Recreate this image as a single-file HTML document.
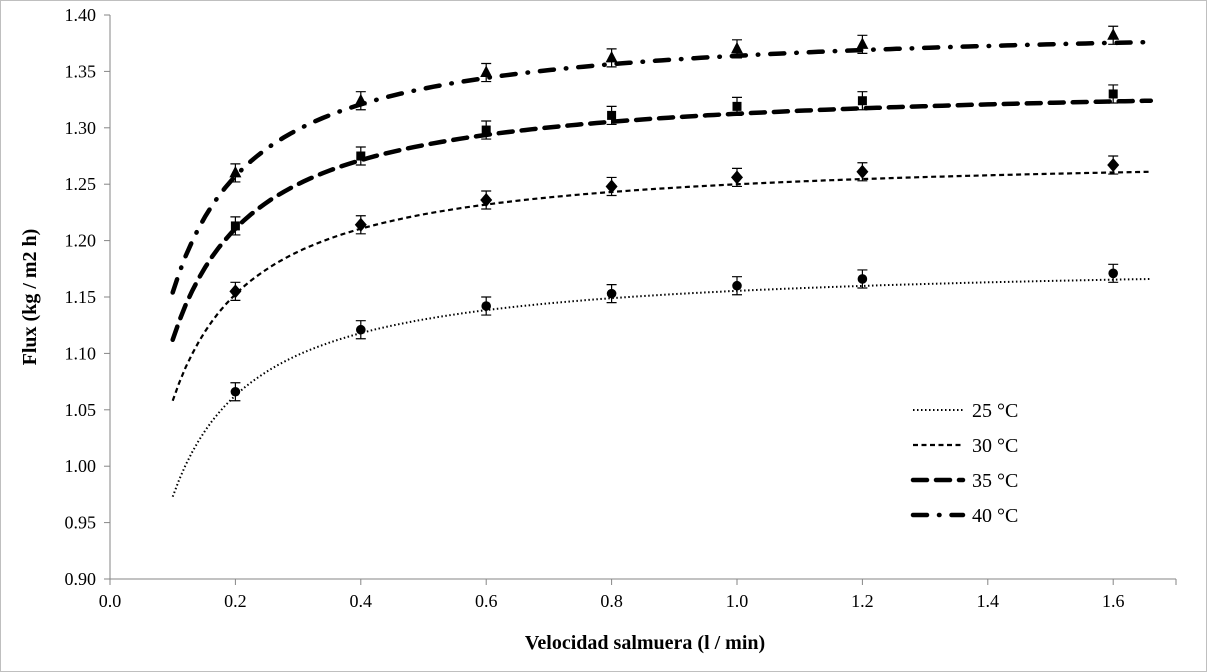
<!DOCTYPE html>
<html><head><meta charset="utf-8"><style>
body{margin:0;background:#fff}
svg{display:block;font-family:"Liberation Serif",serif}
</style></head><body>
<svg id="chart" width="1207" height="672" viewBox="0 0 1207 672">
<rect x="0.5" y="0.5" width="1206" height="671" fill="#fff" stroke="#bfbfbf"/>
<g id="axes"></g><g id="series"></g><g id="legend"></g>
<text x="645" y="649" text-anchor="middle" font-size="20" font-weight="bold">Velocidad salmuera (l / min)</text>
<text transform="translate(36,297) rotate(-90)" text-anchor="middle" font-size="20" font-weight="bold">Flux (kg / m2 h)</text>
</svg>
<script>
const xCats = [0.2, 0.4, 0.6, 0.8, 1.0, 1.2, 1.6];
const s25 = [1.066, 1.121, 1.142, 1.153, 1.160, 1.166, 1.171];
const s30 = [1.155, 1.214, 1.236, 1.248, 1.256, 1.261, 1.267];
const s35 = [1.213, 1.275, 1.298, 1.311, 1.319, 1.324, 1.330];
const s40 = [1.260, 1.324, 1.349, 1.362, 1.370, 1.374, 1.382];
const fitA = [1.1825, 1.2784, 1.3422, 1.395];
const fitB = [0.02797, 0.02942, 0.03073, 0.03218];
const fitC = [0.0335, 0.0335, 0.0335, 0.0335];
const errVal = 0.008;
const xTicks = ["0.0","0.2","0.4","0.6","0.8","1.0","1.2","1.4","1.6"];
const yTicks = ["0.90","0.95","1.00","1.05","1.10","1.15","1.20","1.25","1.30","1.35","1.40"];
const names = ["25 °C","30 °C","35 °C","40 °C"];

const NS="http://www.w3.org/2000/svg";
const X=v=>110+v*627, Y=v=>579-(v-0.9)*1128;
function mk(p,t,a){const e=document.createElementNS(NS,t);for(const k in a)e.setAttribute(k,a[k]);p.appendChild(e);return e;}
const ax=document.getElementById('axes'), sg=document.getElementById('series'), lg=document.getElementById('legend');
let e=mk(ax,'line',{x1:110,y1:579,x2:1176,y2:579,stroke:'#868686','stroke-width':1});


e=mk(ax,'line',{x1:110,y1:15,x2:110,y2:579,stroke:'#868686','stroke-width':1});


xTicks.forEach(t=>{const x=X(+t);
 mk(ax,'line',{x1:x,y1:579,x2:x,y2:585,stroke:'#868686'});
 const tx=mk(ax,'text',{x:x,y:607,'text-anchor':'middle','font-size':18});tx.textContent=t;
 
 });
mk(ax,'line',{x1:1176,y1:579,x2:1176,y2:585,stroke:'#868686'});
yTicks.forEach(t=>{const y=Y(+t);
 mk(ax,'line',{x1:104,y1:y,x2:110,y2:y,stroke:'#868686'});
 const tx=mk(ax,'text',{x:96,y:y+6,'text-anchor':'end','font-size':18});tx.textContent=t;
 
 });
const styles=[{w:2,d:'1.5,2.5',lc:'butt'},{w:2.2,d:'5,3.5',lc:'butt'},{w:4.5,d:'14,9',lc:'round'},{w:4.5,d:'14,12,0.5,12',lc:'round'}];
const data=[s25,s30,s35,s40];
function marker(g,i,x,y){
 if(i===0)return mk(g,'circle',{cx:x,cy:y,r:4.8,fill:'#000'});
 if(i===1)return mk(g,'polygon',{points:`${x},${y-7} ${x+6},${y} ${x},${y+7} ${x-6},${y}`,fill:'#000'});
 if(i===2)return mk(g,'rect',{x:x-4.5,y:y-4.5,width:9,height:9,fill:'#000'});
 return mk(g,'polygon',{points:`${x},${y-7} ${x+6},${y+4.5} ${x-6},${y+4.5}`,fill:'#000'});
}
data.forEach((s,i)=>{
 let d='';for(let k=0;k<=150;k++){const xv=0.1+k*(1.66-0.1)/150;const yv=fitA[i]-fitB[i]/(xv+fitC[i]);d+=(k?'L':'M')+X(xv).toFixed(1)+','+Y(yv).toFixed(1);}
 const p=mk(sg,'path',{d:d,fill:'none',stroke:'#000','stroke-width':styles[i].w,'stroke-dasharray':styles[i].d,'stroke-linecap':styles[i].lc});
 
 
 s.forEach((v,j)=>{const x=X(xCats[j]),y=Y(v),y1=Y(v+errVal),y2=Y(v-errVal);
  const g=mk(sg,'g',{});
  
  
  mk(g,'path',{d:`M${x},${y1}V${y2}M${x-5},${y1}H${x+5}M${x-5},${y2}H${x+5}`,stroke:'#000','stroke-width':1.2,fill:'none'});
  marker(g,i,x,y);});
 const ly=410+i*35;
 const lgE=mk(lg,'g',{});
 
 
 mk(lgE,'line',{x1:913,y1:ly,x2:963,y2:ly,stroke:'#000','stroke-width':styles[i].w,'stroke-dasharray':styles[i].d,'stroke-linecap':styles[i].lc});
 const t=mk(lgE,'text',{x:972,y:ly+7,'font-size':20});t.textContent=names[i];
});
</script>
</body></html>
